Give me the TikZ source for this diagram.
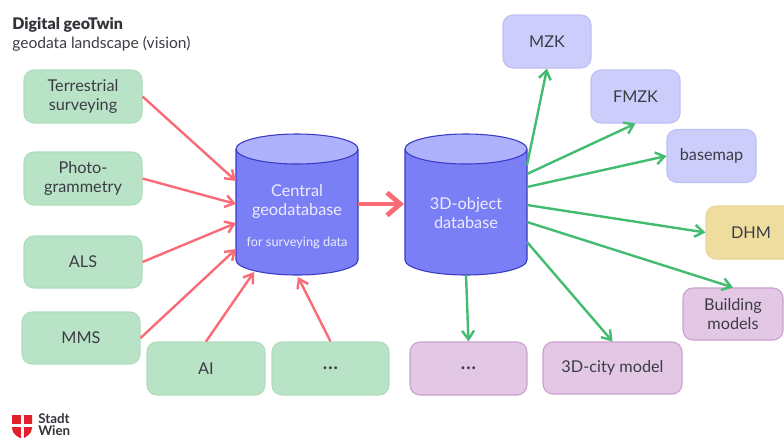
\documentclass[tikz,border=0pt]{standalone}
\usepackage{fontspec}
\setmainfont{Lato}
\newfontfamily\heavyfont{Lato Black}
\usetikzlibrary{arrows.meta}
\definecolor{txt}{HTML}{3C3C44}
\definecolor{gfill}{HTML}{B9E3C6}
\definecolor{gline}{HTML}{AEDDBD}
\definecolor{lfill}{HTML}{CDCDFB}
\definecolor{lline}{HTML}{BFBFF2}
\definecolor{yfill}{HTML}{EEDD9F}
\definecolor{yline}{HTML}{E9D795}
\definecolor{pfill}{HTML}{E3C8E6}
\definecolor{pline}{HTML}{C9A0CE}
\definecolor{cylbody}{HTML}{7B7FF6}
\definecolor{cyltop}{HTML}{AEB1FB}
\definecolor{cylline}{HTML}{3A3AC4}
\definecolor{redarr}{HTML}{FA6B78}
\definecolor{grnarr}{HTML}{43BC72}
\definecolor{wienred}{HTML}{E2202C}
\tikzset{
  x=0.75pt,y=-0.75pt,
  basebox/.style={rounded corners=7.5pt,line width=0.8pt,text=txt,align=center,inner sep=0pt,font=\fontsize{12.2}{14.2}\selectfont},
  greenbox/.style={basebox,draw=gline,fill=gfill},
  lavbox/.style={basebox,draw=lline,fill=lfill},
  yelbox/.style={basebox,draw=yline,fill=yfill},
  purpbox/.style={basebox,draw=pline,fill=pfill},
  dotsfont/.style={font=\fontsize{17}{17}\selectfont},
  redline/.style={draw=redarr,line width=1.8pt,-{Straight Barb[length=6.5pt,width=9pt,line width=1.8pt]}},
  redthick/.style={draw=redarr,line width=3.6pt,-{Straight Barb[length=10pt,width=17pt,line width=3.6pt]}},
  greenline/.style={draw=grnarr,line width=1.8pt,-{Straight Barb[length=6.5pt,width=9pt,line width=1.8pt]}},
  cyl/.style={draw=cylline,line width=0.8pt,fill=cylbody},
  cyltext/.style={text=white!85!cylbody,align=center,inner sep=0pt,font=\fontsize{12.2}{14.3}\selectfont},
}
\newcommand{\boxat}[7]{\node[#1,minimum width=#4*0.75pt,minimum height=#5*0.75pt] (#2) at (#3) {#6};}
\begin{document}
\begin{tikzpicture}
\useasboundingbox (0,0) rectangle (784,437);
\clip (0,0) rectangle (784,437);
\fill[white] (0,0) rectangle (784,437);
% title
\node[anchor=west,inner sep=0pt,text=txt!85!black,font=\fontsize{12}{15}\heavyfont] (title) at (12,25) {Digital geoTwin};
\node[anchor=west,inner sep=0pt,text=txt,font=\fontsize{11.7}{13}\selectfont] (subtitle) at (12,43.5) {geodata landscape (vision)};
% source boxes
\boxat{greenbox}{terr}{83,96.5}{118}{53}{Terrestrial\\surveying}{}
\boxat{greenbox}{photo}{83,178.5}{118}{53}{Photo-\\grammetry}{}
\boxat{greenbox}{als}{83,262}{118}{52}{ALS}{}
\boxat{greenbox}{mms}{81,338}{118}{52}{MMS}{}
\boxat{greenbox}{ai}{206,368.5}{118}{53}{AI}{}
\boxat{greenbox,dotsfont}{more}{330.5,368.5}{117}{53}{...}{}
% output boxes
\boxat{lavbox}{mzk}{547,41.5}{88}{53}{MZK}{}
\boxat{lavbox}{fmzk}{635.5,96.5}{89}{53}{FMZK}{}
\boxat{lavbox}{basemap}{711.5,156}{89}{53}{basemap}{}
\boxat{yelbox}{dhm}{751,232.5}{90}{53}{DHM}{}
\boxat{purpbox}{build}{733,314}{100}{52}{Building\\models}{}
\boxat{purpbox}{city}{612.5,368}{139}{52}{3D-city model}{}
\boxat{purpbox,dotsfont}{etc}{468.5,368.5}{117}{53}{...}{}
% cylinders
\path[cyl] (236,150) -- (236,260) arc[start angle=180,end angle=0,x radius=61,y radius=15] -- (358,150) arc[start angle=0,end angle=-180,x radius=61,y radius=15] -- cycle;
\path[cyl,fill=cyltop] (297,149) ellipse[x radius=61,y radius=15];
\path[cyl] (405,150) -- (405,260) arc[start angle=180,end angle=0,x radius=61,y radius=15] -- (527,150) arc[start angle=0,end angle=-180,x radius=61,y radius=15] -- cycle;
\path[cyl,fill=cyltop] (466,149) ellipse[x radius=61,y radius=15];
\node[cyltext] (cdb) at (297,201.5) {Central\\geodatabase};
\node[cyltext,font=\fontsize{9.6}{12}\selectfont] (cdbsub) at (297,242.5) {for surveying data};
\node[cyltext] (odb) at (466,213) {3D-object\\database};
% ports on the cylinders
\coordinate (c1) at (236,181);
\coordinate (c2) at (236,204);
\coordinate (c3) at (236,223);
\coordinate (c4) at (236,249);
\coordinate (c5) at (254,272);
\coordinate (c6) at (298,277);
\coordinate (cout) at (358,204);
\coordinate (oin) at (404,204);
\coordinate (o1) at (527,165);
\coordinate (o2) at (527,174);
\coordinate (o3) at (527,187);
\coordinate (o4) at (527,205);
\coordinate (o5) at (527,222);
\coordinate (o6) at (527,242);
\coordinate (o7) at (466,275);
% connectors in
\draw[redline] (terr.east) -- (c1);
\draw[redline] (photo.east) -- (c2);
\draw[redline] (als.east) -- (c3);
\draw[redline] (mms.east) -- (c4);
\draw[redline] (ai.north) -- (c5);
\draw[redline] (more.north) -- (c6);
\draw[redthick] (cout) -- (oin);
% connectors out
\draw[greenline] (o1) -- (mzk.south);
\draw[greenline] (o2) -- (fmzk.south);
\draw[greenline] (o3) -- (basemap.west);
\draw[greenline] (o4) -- (dhm.west);
\draw[greenline] (o5) -- (build.north);
\draw[greenline] (o6) -- (city.north);
\draw[greenline] (o7) -- (etc.north);
% logo
\fill[wienred] (12,415) -- (32,415) -- (32,428) .. controls (32,434) and (26,437) .. (22,439) .. controls (18,437) and (12,434) .. (12,428) -- cycle;
\fill[white] (20.5,414) rectangle (23.5,440);
\fill[white] (11,424) rectangle (33,427);
\node[anchor=west,inner sep=0pt,text=txt!85!black,align=left,font=\fontsize{10}{8.8}\selectfont\bfseries] (logo) at (38,424.5) {Stadt\\Wien};
\end{tikzpicture}
\end{document}
